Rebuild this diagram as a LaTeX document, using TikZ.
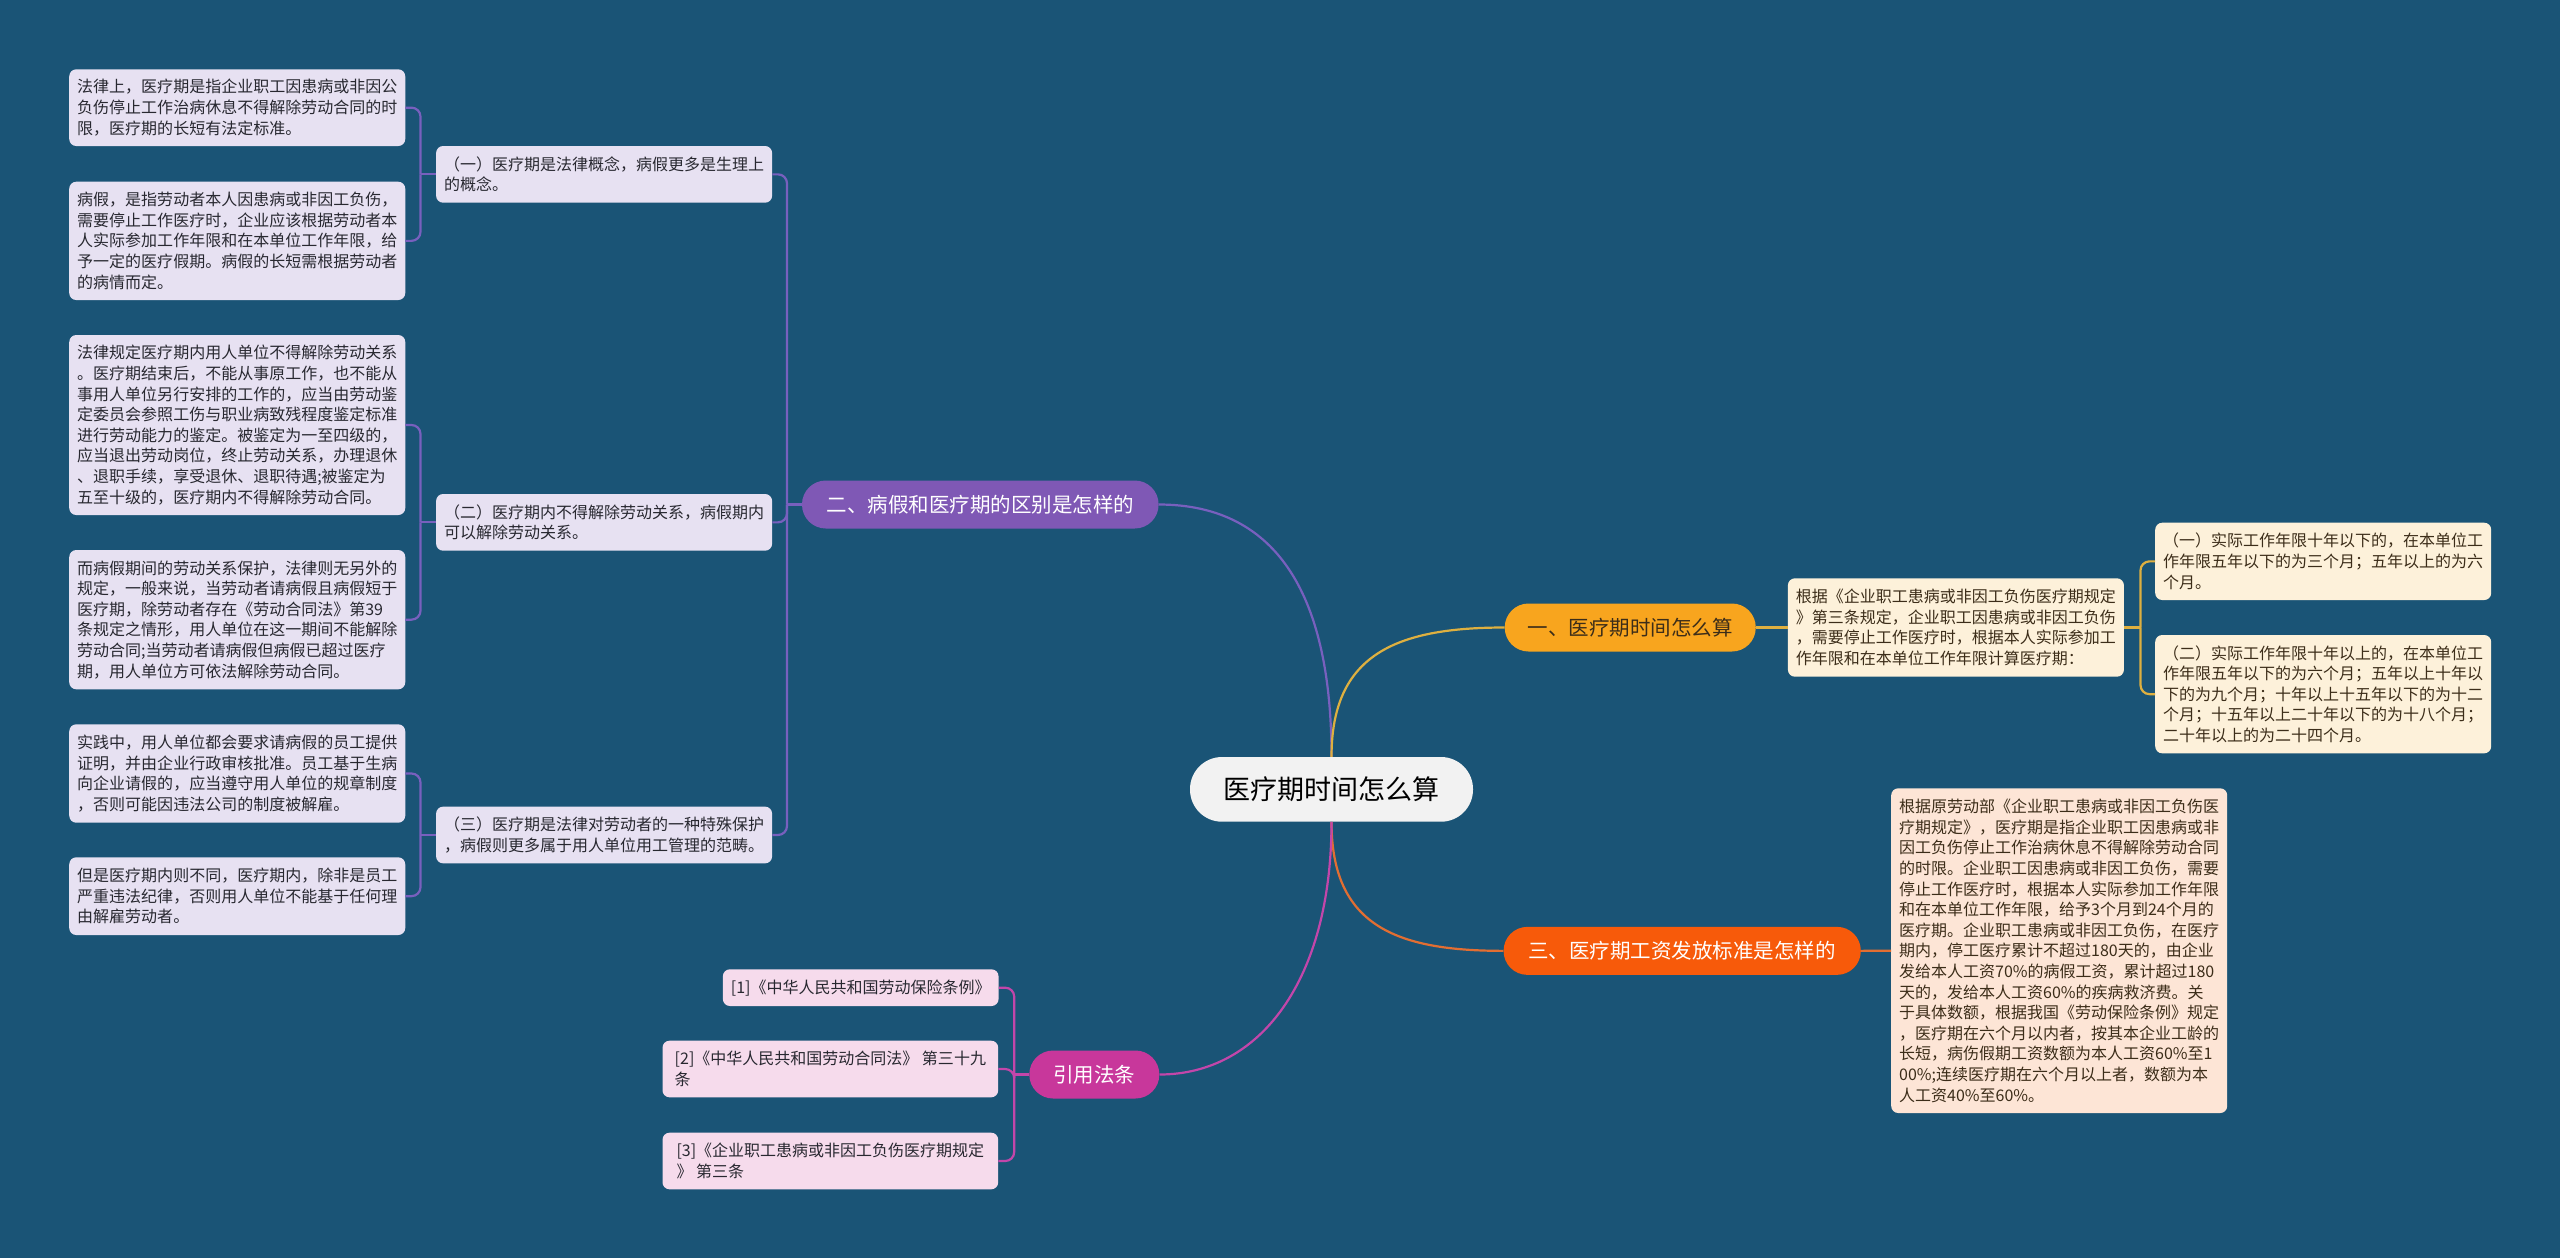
\documentclass[tikz,border=0pt]{standalone}
\usepackage{fontspec}
\newfontfamily\cjk{Noto Sans CJK SC}
\definecolor{bg}{RGB}{26,84,118}
\definecolor{purfill}{RGB}{127,88,181}
\definecolor{purline}{RGB}{120,96,190}
\definecolor{lavfill}{RGB}{231,225,242}
\definecolor{orgfill}{RGB}{248,165,30}
\definecolor{goldline}{RGB}{222,176,64}
\definecolor{creamfill}{RGB}{253,241,218}
\definecolor{redfill}{RGB}{247,90,10}
\definecolor{redline}{RGB}{226,110,50}
\definecolor{peachfill}{RGB}{253,229,214}
\definecolor{magfill}{RGB}{200,55,155}
\definecolor{magline}{RGB}{195,70,170}
\definecolor{pinkfill}{RGB}{246,219,236}
\definecolor{ctrfill}{RGB}{242,242,242}
\definecolor{darktext}{RGB}{40,40,48}
\definecolor{browntext}{RGB}{60,45,25}
\begin{document}
\begin{tikzpicture}[x=1bp,y=-1bp,
  box/.style={rectangle, rounded corners=7bp, inner xsep=8bp, inner ysep=0bp,
    align=left, text=darktext, font=\cjk\fontsize{16bp}{20.6bp}\selectfont},
  lav/.style={box, fill=lavfill, minimum width=336bp},
  cream/.style={box, fill=creamfill, text=browntext, minimum width=335bp},
  peach/.style={box, fill=peachfill, text=browntext, minimum width=335bp},
  pink/.style={box, fill=pinkfill},
  pill/.style={rectangle, rounded corners=23.8bp, inner sep=0bp, text=white,
    font=\cjk\fontsize{20.5bp}{24bp}\selectfont, minimum height=48bp},
  pline/.style={draw=purline, line width=2.2bp},
  gline/.style={draw=goldline, line width=2.2bp},
  rline/.style={draw=redline, line width=2.2bp},
  mline/.style={draw=magline, line width=2.2bp},
  brk/.style={rounded corners=9bp}
]
\fill[bg] (0,0) rectangle (2560,1258);
\useasboundingbox (0,0) rectangle (2560,1258);

% centre
\node[rectangle, rounded corners=32bp, fill=ctrfill, text=black, inner sep=0bp,
  minimum width=283bp, minimum height=64.7bp,
  font=\cjk\fontsize{27bp}{32bp}\selectfont] (ctr) at (1331.5,789.35) {医疗期时间怎么算};

% branches
\node[pill, fill=purfill, minimum width=356.6bp] (b2) at (980.3,504.5) {二、病假和医疗期的区别是怎样的};
\node[pill, fill=orgfill, text=browntext, minimum width=251bp] (b1) at (1630.25,627.5) {一、医疗期时间怎么算};
\node[pill, fill=redfill, minimum width=357.2bp] (b3) at (1682.2,950.85) {三、医疗期工资发放标准是怎样的};
\node[pill, fill=magfill, minimum width=130bp] (b4) at (1094.3,1074.5) {引用法条};

% left sub nodes
\node[lav, minimum width=335.2bp, minimum height=56.7bp] (s1) at (604.1,174.35)
 {（一）医疗期是法律概念，病假更多是生理上\\的概念。};
\node[lav, minimum width=335.2bp, minimum height=56.7bp] (s2) at (604.1,522.35)
 {（二）医疗期内不得解除劳动关系，病假期内\\可以解除劳动关系。};
\node[lav, minimum width=335.2bp, minimum height=56.7bp] (s3) at (604.1,835)
 {（三）医疗期是法律对劳动者的一种特殊保护\\，病假则更多属于用人单位用工管理的范畴。};

% left leaves
\node[lav, minimum height=76.7bp] (l1) at (237.25,107.65)
 {法律上，医疗期是指企业职工因患病或非因公\\负伤停止工作治病休息不得解除劳动合同的时\\限，医疗期的长短有法定标准。};
\node[lav, minimum height=118.3bp] (l2) at (237.25,240.85)
 {病假，是指劳动者本人因患病或非因工负伤，\\需要停止工作医疗时，企业应该根据劳动者本\\人实际参加工作年限和在本单位工作年限，给\\予一定的医疗假期。病假的长短需根据劳动者\\的病情而定。};
\node[lav, minimum height=180bp] (l3) at (237.25,425)
 {法律规定医疗期内用人单位不得解除劳动关系\\。医疗期结束后，不能从事原工作，也不能从\\事用人单位另行安排的工作的，应当由劳动鉴\\定委员会参照工伤与职业病致残程度鉴定标准\\进行劳动能力的鉴定。被鉴定为一至四级的，\\应当退出劳动岗位，终止劳动关系，办理退休\\、退职手续，享受退休、退职待遇;被鉴定为\\五至十级的，医疗期内不得解除劳动合同。};
\node[lav, minimum height=139.3bp] (l4) at (237.25,619.65)
 {而病假期间的劳动关系保护，法律则无另外的\\规定，一般来说，当劳动者请病假且病假短于\\医疗期，除劳动者存在《劳动合同法》第39\\条规定之情形，用人单位在这一期间不能解除\\劳动合同;当劳动者请病假但病假已超过医疗\\期，用人单位方可依法解除劳动合同。};
\node[lav, minimum height=98.4bp] (l5) at (237.25,773.5)
 {实践中，用人单位都会要求请病假的员工提供\\证明，并由企业行政审核批准。员工基于生病\\向企业请假的，应当遵守用人单位的规章制度\\，否则可能因违法公司的制度被解雇。};
\node[lav, minimum height=77.7bp] (l6) at (237.25,896.15)
 {但是医疗期内则不同，医疗期内，除非是员工\\严重违法纪律，否则用人单位不能基于任何理\\由解雇劳动者。};

% right nodes
\node[cream, minimum height=98.4bp] (r0) at (1955.9,627.5)
 {根据《企业职工患病或非因工负伤医疗期规定\\》第三条规定，企业职工因患病或非因工负伤\\，需要停止工作医疗时，根据本人实际参加工\\作年限和在本单位工作年限计算医疗期：};
\node[cream, minimum height=77.3bp] (r1) at (2323.2,561.35)
 {（一）实际工作年限十年以下的，在本单位工\\作年限五年以下的为三个月；五年以上的为六\\个月。};
\node[cream, minimum height=118.3bp] (r2) at (2323.2,694.15)
 {（二）实际工作年限十年以上的，在本单位工\\作年限五年以下的为六个月；五年以上十年以\\下的为九个月；十年以上十五年以下的为十二\\个月；十五年以上二十年以下的为十八个月；\\二十年以上的为二十四个月。};
\node[peach, minimum height=324.7bp] (r3) at (2059.2,950.65)
 {根据原劳动部《企业职工患病或非因工负伤医\\疗期规定》，医疗期是指企业职工因患病或非\\因工负伤停止工作治病休息不得解除劳动合同\\的时限。企业职工因患病或非因工负伤，需要\\停止工作医疗时，根据本人实际参加工作年限\\和在本单位工作年限，给予3个月到24个月的\\医疗期。企业职工患病或非因工负伤，在医疗\\期内，停工医疗累计不超过180天的，由企业\\发给本人工资70\%的病假工资，累计超过180\\天的，发给本人工资60\%的疾病救济费。关\\于具体数额，根据我国《劳动保险条例》规定\\，医疗期在六个月以内者，按其本企业工龄的\\长短，病伤假期工资数额为本人工资60\%至1\\00\%;连续医疗期在六个月以上者，数额为本\\人工资40\%至60\%。};

% reference nodes
\node[pink, minimum width=275bp, minimum height=36.7bp] (c1) at (860.7,987.65)
 {[1]《中华人民共和国劳动保险条例》};
\node[pink, minimum width=335.7bp, minimum height=56.6bp] (c2) at (830.35,1069)
 {[2]《中华人民共和国劳动合同法》 第三十九\\条};
\node[pink, minimum width=335.7bp, minimum height=56.6bp] (c3) at (830.35,1161)
 {[3]《企业职工患病或非因工负伤医疗期规定\\》 第三条};

% junctions
\coordinate (jL1) at (420.5,174.35);
\coordinate (jL2) at (420.5,522.35);
\coordinate (jL3) at (420.5,835);
\coordinate (j2) at (787,504.5);
\coordinate (jR) at (2140.5,627.5);
\coordinate (j4) at (1014.2,1074.5);

% main curves
\draw[pline] (b2.east) .. controls (1280,504.5) and (1331.5,600) .. (ctr.north);
\draw[gline] (ctr.north) .. controls (1331.5,655) and (1395,627.5) .. (b1.west);
\draw[rline] (ctr.south) .. controls (1331.5,925) and (1395,950.85) .. (b3.west);
\draw[mline] (ctr.south) .. controls (1331.5,980) and (1260,1074.5) .. (b4.east);

% branch 2 bracket
\draw[pline] (b2.west) -- (j2);
\draw[pline, brk] (s1.east) -| (j2);
\draw[pline, brk] (s2.east) -| (j2);
\draw[pline, brk] (s3.east) -| (j2);

% left brackets
\draw[pline] (jL1) -- (s1.west);
\draw[pline, brk] (l1.east) -| (jL1);
\draw[pline, brk] (l2.east) -| (jL1);
\draw[pline] (jL2) -- (s2.west);
\draw[pline, brk] (l3.east) -| (jL2);
\draw[pline, brk] (l4.east) -| (jL2);
\draw[pline] (jL3) -- (s3.west);
\draw[pline, brk] (l5.east) -| (jL3);
\draw[pline, brk] (l6.east) -| (jL3);

% right side
\draw[gline] (b1.east) -- (r0.west);
\draw[gline] (r0.east) -- (jR);
\draw[gline, brk] (r1.west) -| (jR);
\draw[gline, brk] (r2.west) -| (jR);
\draw[rline] (b3.east) -- (r3.west);

% references
\draw[mline] (b4.west) -- (j4);
\draw[mline, brk] (c1.east) -| (j4);
\draw[mline, brk] (c2.east) -| (j4);
\draw[mline, brk] (c3.east) -| (j4);
\end{tikzpicture}
\end{document}
